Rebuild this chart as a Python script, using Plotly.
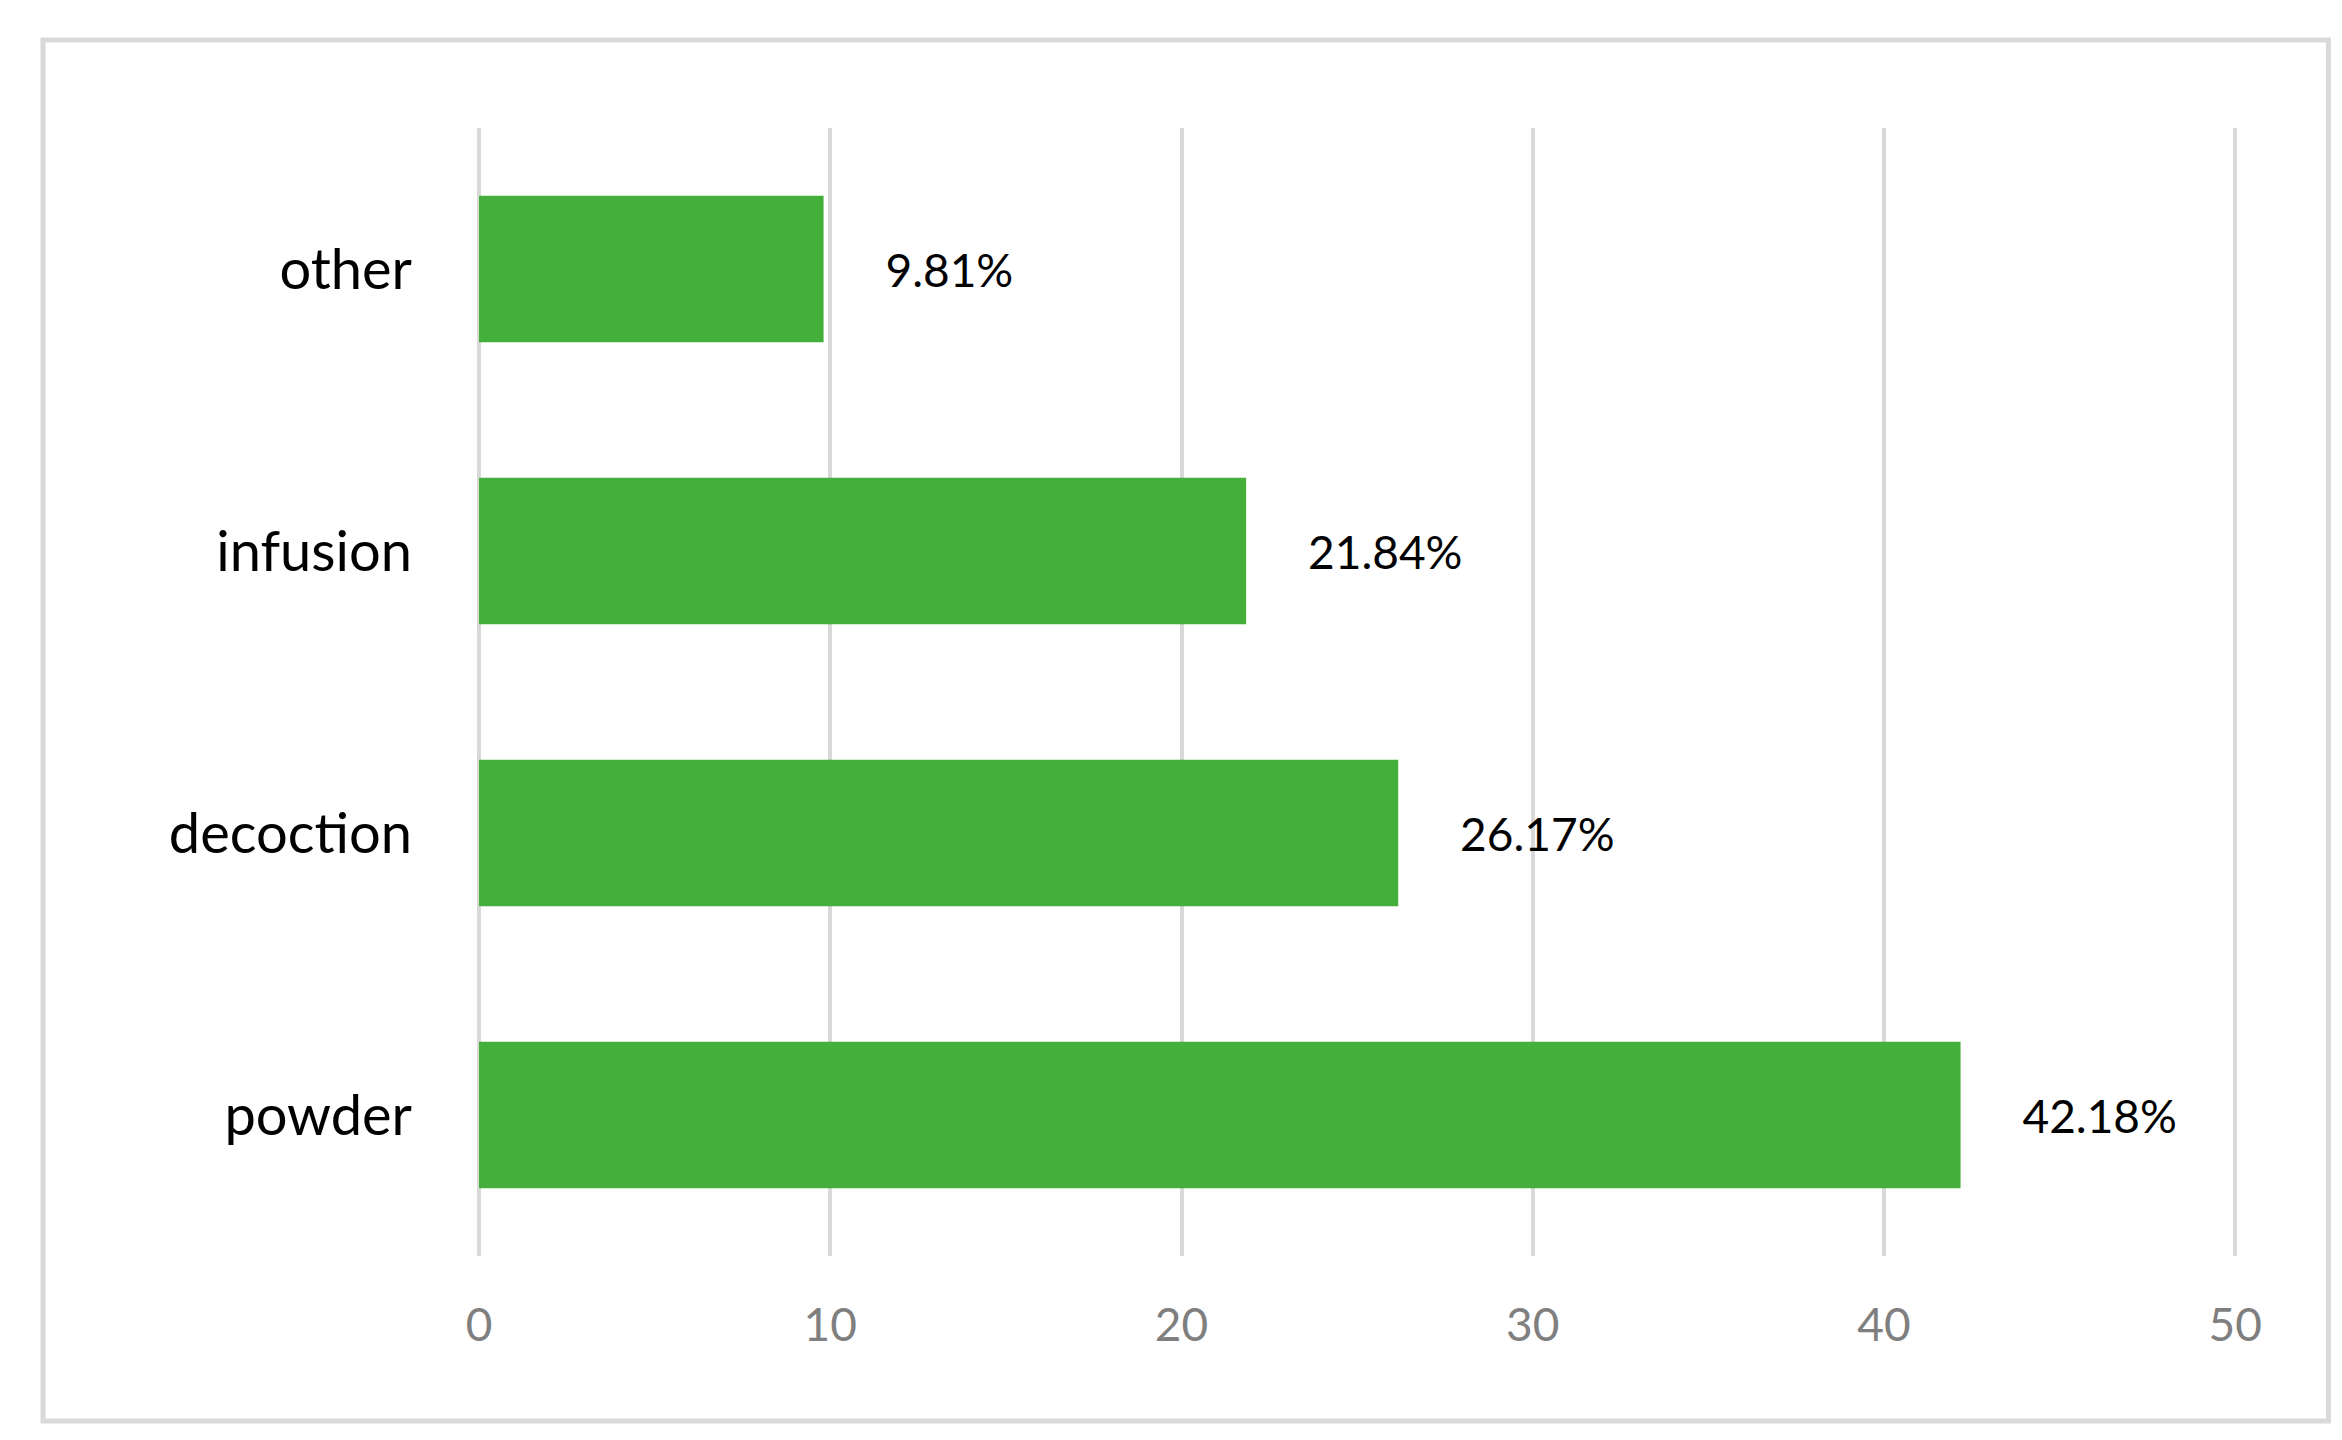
import plotly.graph_objects as go

categories = ["powder", "decoction", "infusion", "other"]
values = [42.18, 26.17, 21.84, 9.81]
labels = ["42.18%", "26.17%", "21.84%", "9.81%"]

fig = go.Figure(go.Bar(
    y=categories, x=values, orientation="h",
    marker=dict(color="#45AF3C", line=dict(width=0)),
    width=0.52, text=["     " + l for l in labels], textposition="outside",
    textfont=dict(family="Lato, Open Sans, sans-serif", size=46, color="#000000"),
    cliponaxis=False,
))
fig.update_layout(
    width=2342, height=1440,
    margin=dict(l=471, r=113, t=120, b=192),
    plot_bgcolor="white", paper_bgcolor="white",
    showlegend=False,
    xaxis=dict(range=[0, 50.05], tickvals=[0, 10, 20, 30, 40, 50], showgrid=True,
               gridcolor="#d9d9d9", gridwidth=4,
               zeroline=True, zerolinecolor="#d9d9d9", zerolinewidth=4, showline=False,
               tickfont=dict(family="Lato, Open Sans, sans-serif", size=46, color="#7f7f7f"),
               ticklabelstandoff=38),
    yaxis=dict(showgrid=False, zeroline=False, showline=False,
               tickfont=dict(family="Lato, Open Sans, sans-serif", size=56, color="#000000"),
               ticklabelstandoff=66),
    shapes=[dict(type="rect", xref="paper", yref="paper",
                 x0=-0.248, x1=1.052, y0=-0.1463, y1=1.078,
                 line=dict(color="#d9d9d9", width=5))],
)
fig.write_html("out.html")
